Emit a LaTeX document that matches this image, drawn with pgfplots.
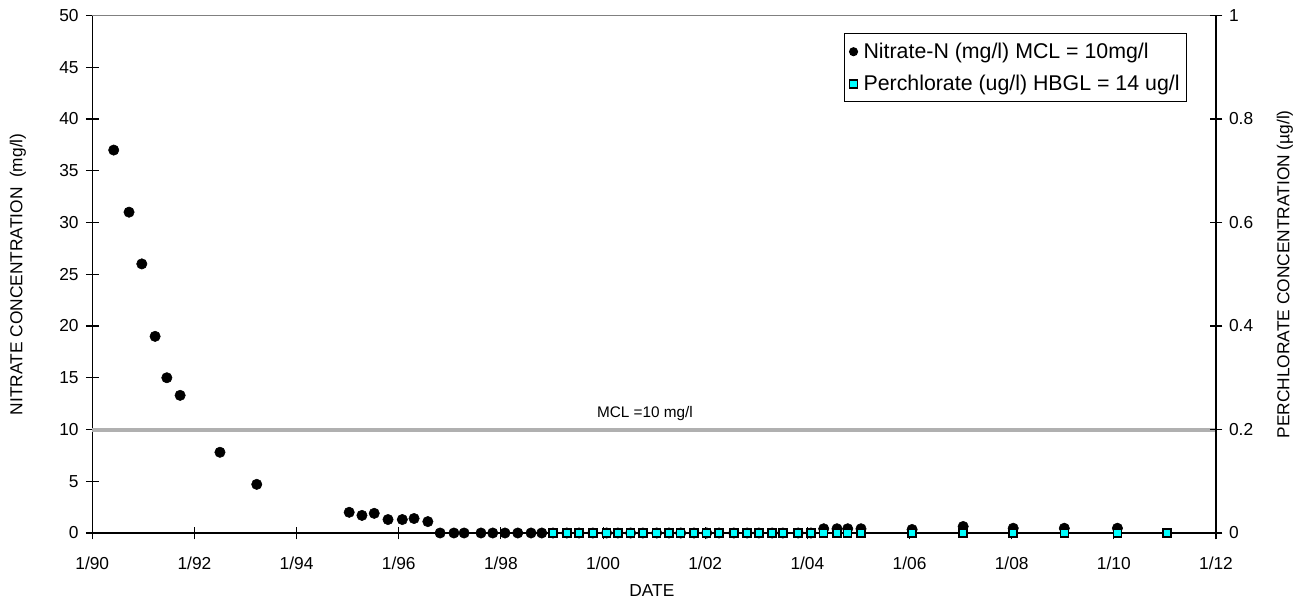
\documentclass[border=0pt]{standalone}
\usepackage{pgfplots}
\pgfplotsset{compat=1.18}
\usepackage{fontspec}
\setmainfont{Liberation Sans}

\definecolor{mclgray}{RGB}{176,176,176}
\definecolor{framegray}{RGB}{128,128,128}
\definecolor{perccyan}{RGB}{0,255,255}

% Nitrate-N samples (decimal year, mg/l)
\pgfplotstableread{
year   no3
1990.42 37
1990.72 31
1990.97 26
1991.23 19
1991.46 15
1991.72 13.3
1992.50 7.8
1993.22 4.7
1995.03 2.0
1995.28 1.7
1995.52 1.9
1995.79 1.3
1996.07 1.3
1996.30 1.4
1996.57 1.1
1996.81 0
1997.08 0
1997.28 0
1997.61 0
1997.84 0
1998.08 0
1998.33 0
1998.59 0
1998.80 0
1999.02 0
1999.29 0
1999.53 0
1999.80 0
2000.07 0
2000.29 0
2000.54 0
2000.78 0
2001.05 0
2001.29 0
2001.52 0
2001.78 0
2002.03 0
2002.27 0
2002.56 0
2002.82 0
2003.05 0
2003.31 0
2003.52 0
2003.82 0
2004.07 0
2004.32 0.41
2004.58 0.41
2004.79 0.41
2005.05 0.41
2006.05 0.34
2007.05 0.63
2008.03 0.46
2009.03 0.46
2010.07 0.46
}\nitrate

% Perchlorate samples (decimal year, ug/l)
\pgfplotstableread{
year   clo4
1999.02 0
1999.29 0
1999.53 0
1999.80 0
2000.07 0
2000.29 0
2000.54 0
2000.78 0
2001.05 0
2001.29 0
2001.52 0
2001.78 0
2002.03 0
2002.27 0
2002.56 0
2002.82 0
2003.05 0
2003.31 0
2003.52 0
2003.82 0
2004.07 0
2004.32 0
2004.58 0
2004.79 0
2005.05 0
2006.05 0
2007.05 0
2008.03 0
2009.03 0
2010.07 0
2011.04 0
}\perchlorate

\pgfplotsset{
  chartbase/.style={
    scale only axis,
    width=842.8pt, height=388.1pt,
    xmin=1990, xmax=2012,
    tick align=center,
    major tick length=9.5pt,
    every tick/.style={black, line width=0.8pt},
    tick label style={font=\fontsize{13}{15}\selectfont},
    label style={font=\fontsize{13}{15}\selectfont},
    /pgf/number format/assume math mode=true,
    axis line style={line width=1pt},
    clip=false,
  },
  percmark/.style={only marks, mark=square*, mark size=3pt,
    mark options={fill=perccyan, draw=black, line width=1.1pt}},
}

\begin{document}
\begin{tikzpicture}
\useasboundingbox (-69.2pt,-51.75pt) rectangle (905.8pt,399.75pt);

% left-hand nitrate axis
\begin{axis}[
  chartbase,
  ymin=0, ymax=50,
  axis x line*=bottom, axis y line*=left,
  xtick={1990,1992,...,2012},
  xticklabels={1/90,1/92,1/94,1/96,1/98,1/00,1/02,1/04,1/06,1/08,1/10,1/12},
  ytick={0,5,...,50},
  xticklabel style={yshift=-9.5pt},
  yticklabel style={xshift=-2pt},
  xlabel={DATE},
  ylabel={NITRATE CONCENTRATION\ \ (mg/l)},
  xlabel style={at={(axis description cs:0.498,-0.112)}, anchor=center},
  ylabel style={at={(axis description cs:-0.0661,0.5)}, anchor=center},
  legend style={
    at={(axis description cs:0.974,0.966)}, anchor=north east,
    draw=black, line width=0.8pt,
    font=\fontsize{16}{19}\selectfont,
    row sep=7pt, inner xsep=3pt, inner ysep=5pt,
    legend cell align=left,
  },
  legend image code/.code={\draw[#1] plot coordinates {(0.12cm,0cm)}; \path (0,0) (0.3cm,0);},
]
% MCL reference line
\addplot[mclgray, line width=3pt, forget plot] coordinates {(1990,10) (2012,10)};
\node[font=\fontsize{11.5}{13}\selectfont, anchor=south] at (axis cs:2000.82,10.35) {MCL =10 mg/l};

\addplot[only marks, mark=*, mark size=3.9pt, black, forget plot]
  table[x=year, y=no3] {\nitrate};
\addlegendimage{only marks, mark=*, mark size=3pt, black}
\addlegendentry{Nitrate-N (mg/l) MCL = 10mg/l}
\addlegendimage{percmark}
\addlegendentry{Perchlorate (ug/l) HBGL = 14 ug/l}

% grey top edge of the plotting frame
\draw[framegray, line width=1pt] (rel axis cs:0,1) -- (rel axis cs:1,1);
\end{axis}

% right-hand perchlorate axis
\begin{axis}[
  chartbase,
  ymin=0, ymax=1,
  axis y line*=right, axis x line=none,
  ytick={0,0.2,0.4,0.6,0.8,1},
  yticklabels={0,0.2,0.4,0.6,0.8,1},
  yticklabel style={xshift=1.5pt},
  ylabel={PERCHLORATE CONCENTRATION (µg/l)},
  ylabel style={at={(axis description cs:1.0614,0.5)}, anchor=center},
]
\addplot[percmark] table[x=year, y=clo4] {\perchlorate};
\end{axis}
\end{tikzpicture}
\end{document}
